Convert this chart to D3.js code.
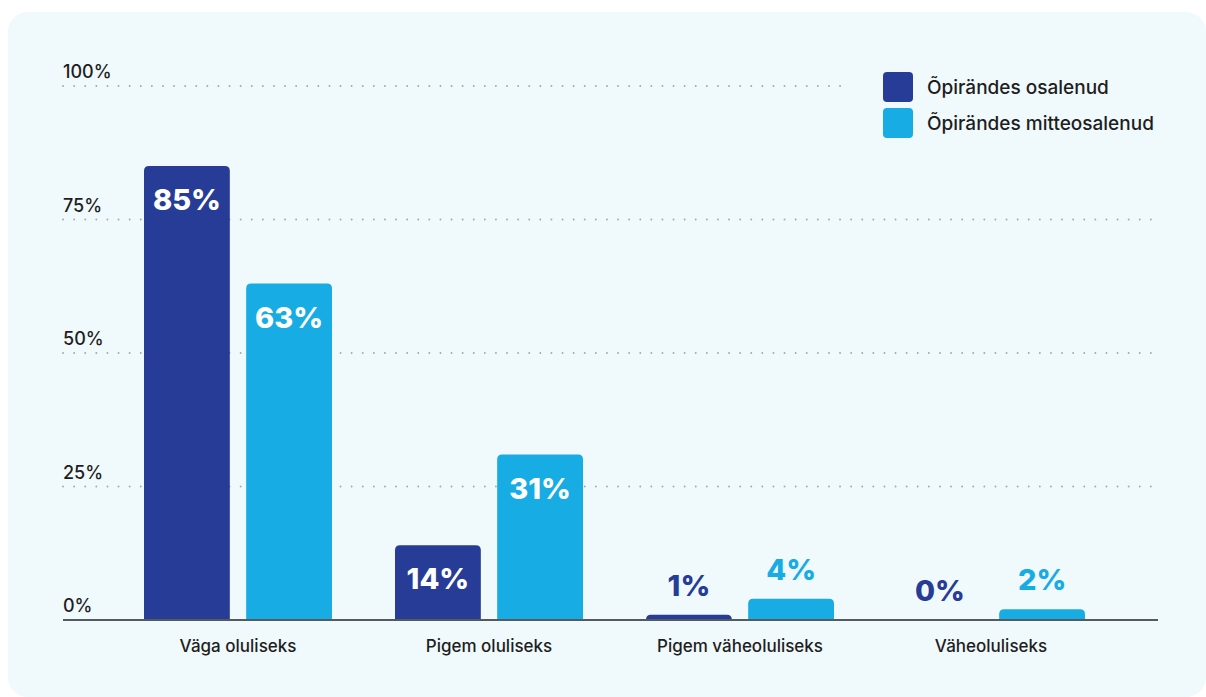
<!DOCTYPE html>
<html>
<head>
<meta charset="utf-8">
<script src="https://cdn.jsdelivr.net/npm/d3@7/dist/d3.min.js"></script>
<style>
  html, body { margin: 0; padding: 0; background: #ffffff; }
  svg { display: block; font-family: "Inter", "Open Sans", sans-serif; }
</style>
</head>
<body>
<svg id="chart" width="1206" height="697"></svg>
<script>
// Survey answers: how important the respondents rated it
const categories = ["Väga oluliseks", "Pigem oluliseks", "Pigem väheoluliseks", "Väheoluliseks"];
const seriesNames = ["Õpirändes osalenud", "Õpirändes mitteosalenud"];
const participated = [85, 14, 1, 0];
const notParticipated = [63, 31, 4, 2];
const yTicks = [0, 25, 50, 75, 100];
const colors = ["#263c97", "#17ace3"];

const svg = d3.select("#chart");

// card background
svg.append("rect")
  .attr("x", 8).attr("y", 12)
  .attr("width", 1198).attr("height", 685)
  .attr("rx", 20)
  .attr("fill", "#f0f9fc");

const plotLeft = 63, plotRight = 1158;
const y = d3.scaleLinear().domain([0, 100]).range([620, 86]);
const x0 = d3.scaleBand().domain(categories).range([112.5, 1116.5]).paddingInner(0).paddingOuter(0);
const x1 = d3.scaleBand().domain(seriesNames).range([0, 188]).paddingInner(0.16);
const groupOffset = (x0.bandwidth() - 188) / 2;

// dotted gridlines
const grid = svg.append("g");
grid.selectAll("line")
  .data(yTicks.filter(d => d > 0))
  .join("line")
  .attr("x1", plotLeft)
  .attr("x2", d => d === 100 ? 850 : plotRight)
  .attr("y1", d => y(d)).attr("y2", d => y(d))
  .attr("stroke", "#a3aaae")
  .attr("stroke-width", 1.8)
  .attr("stroke-linecap", "round")
  .attr("stroke-dasharray", "0.1 11");

// tick labels sit above their gridline
svg.append("g").selectAll("text")
  .data(yTicks)
  .join("text")
  .attr("x", plotLeft)
  .attr("y", d => y(d) - 8)
  .attr("font-size", 18)
  .attr("font-weight", 500)
  .attr("fill", "#1e1e1e")
  .text(d => d + "%");

// bars with rounded tops
const rows = categories.map((c, i) => ({ cat: c, values: [participated[i], notParticipated[i]] }));

function topRounded(xp, yTop, w, h, r) {
  if (h <= 0) return "";
  const rr = Math.min(r, h, w / 2);
  return `M${xp},${yTop + h} V${yTop + rr} Q${xp},${yTop} ${xp + rr},${yTop} H${xp + w - rr} Q${xp + w},${yTop} ${xp + w},${yTop + rr} V${yTop + h} Z`;
}

const groups = svg.append("g").selectAll("g")
  .data(rows)
  .join("g")
  .attr("transform", d => `translate(${x0(d.cat) + groupOffset},0)`);

const cells = groups.selectAll("g")
  .data(d => d.values.map((v, j) => ({ v, j, name: seriesNames[j] })))
  .join("g");

cells.append("path")
  .attr("d", d => topRounded(x1(d.name), y(d.v), x1.bandwidth(), y(0) - y(d.v), 5))
  .attr("fill", d => colors[d.j]);

// value labels: inside tall bars, above short ones
cells.append("text")
  .attr("x", d => x1(d.name) + x1.bandwidth() / 2)
  .attr("y", d => d.v >= 10 ? y(d.v) + 34 : y(d.v) - 29)
  .attr("dy", "0.35em")
  .attr("text-anchor", "middle")
  .attr("font-size", 29)
  .attr("font-weight", 800)
  .attr("fill", d => d.v >= 10 ? "#ffffff" : colors[d.j])
  .text(d => d.v + "%");

// baseline
svg.append("line")
  .attr("x1", plotLeft).attr("x2", plotRight)
  .attr("y1", y(0)).attr("y2", y(0))
  .attr("stroke", "#555a5e")
  .attr("stroke-width", 2);

// category labels
const xAxis = d3.axisBottom(x0).tickSize(0).tickPadding(0);
const xg = svg.append("g").attr("transform", `translate(0,${y(0)})`).call(xAxis);
xg.select(".domain").remove();
xg.selectAll("text")
  .attr("y", 26)
  .attr("dy", "0.35em")
  .attr("font-family", "Inter, 'Open Sans', sans-serif")
  .attr("font-size", 17)
  .attr("font-weight", 500)
  .attr("fill", "#1e1e1e");

// legend
const legend = svg.append("g").attr("transform", "translate(883,72)");
const items = legend.selectAll("g")
  .data(seriesNames)
  .join("g")
  .attr("transform", (d, i) => `translate(0,${i * 36})`);
items.append("rect")
  .attr("width", 30).attr("height", 30).attr("rx", 4)
  .attr("fill", (d, i) => colors[i]);
items.append("text")
  .attr("x", 44).attr("y", 15)
  .attr("dy", "0.35em")
  .attr("font-size", 19)
  .attr("font-weight", 500)
  .attr("fill", "#1e1e1e")
  .text(d => d);
</script>
</body>
</html>
